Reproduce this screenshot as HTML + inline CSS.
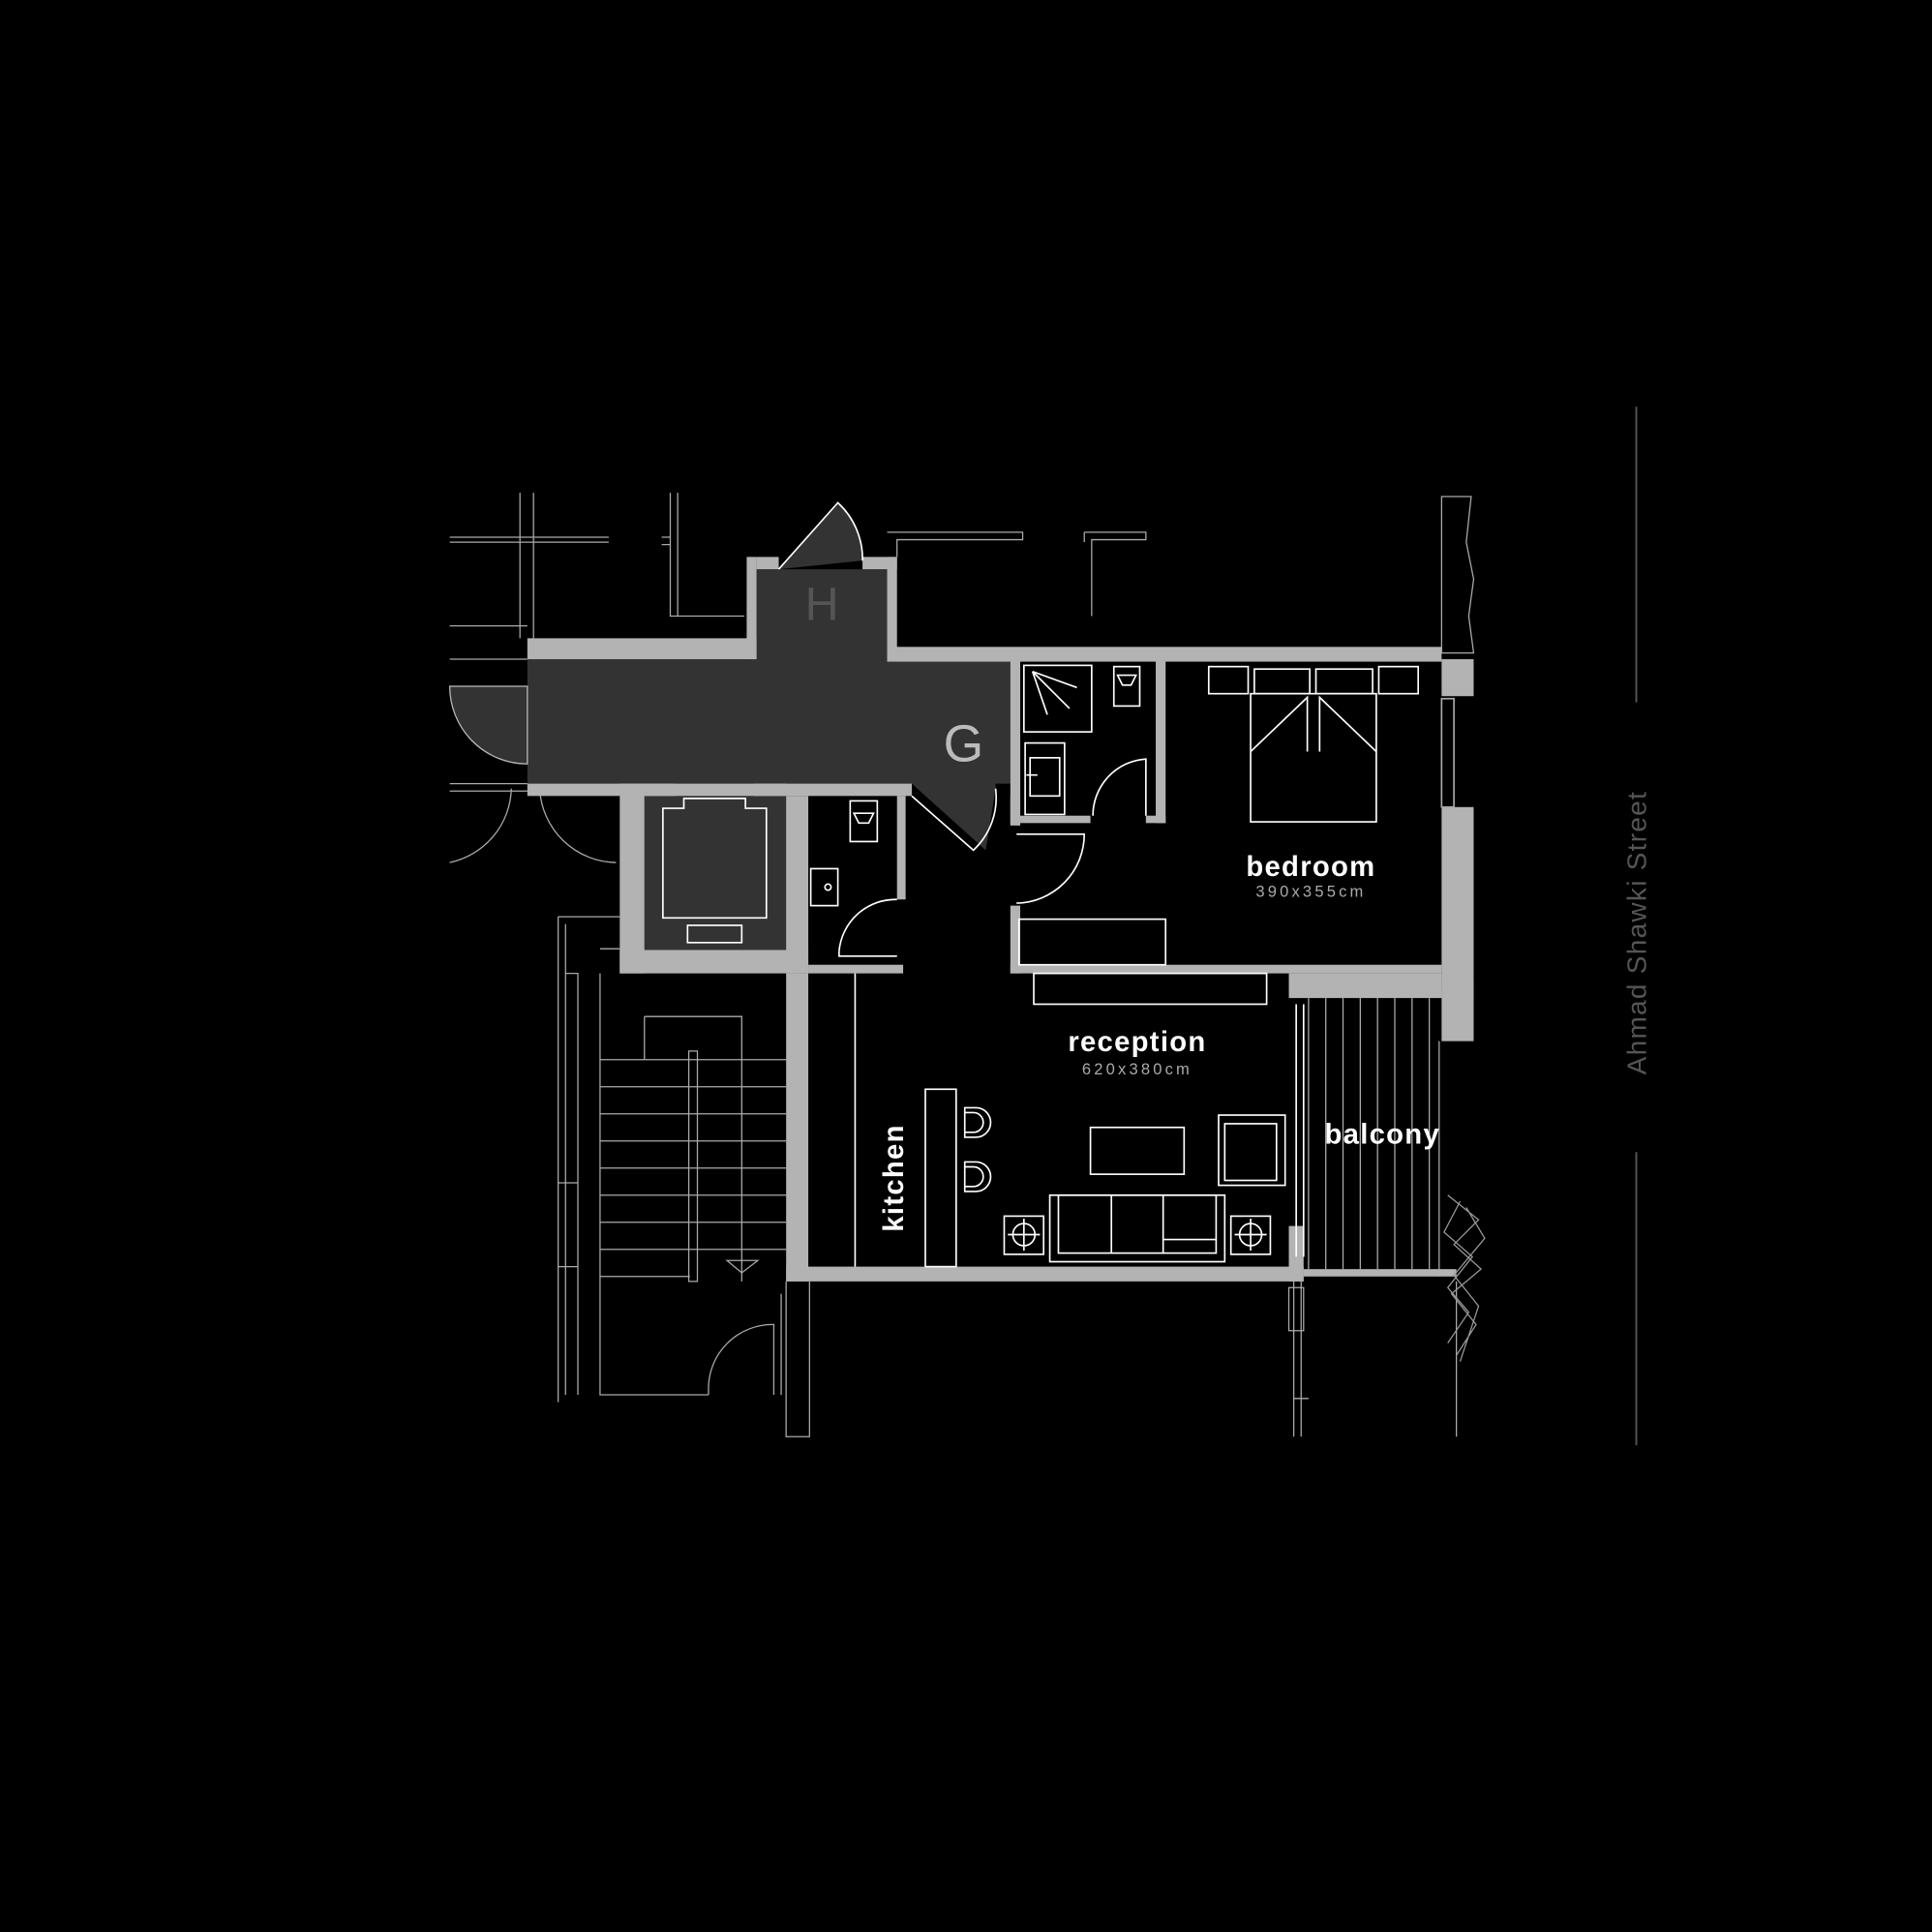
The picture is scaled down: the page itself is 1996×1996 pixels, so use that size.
<!DOCTYPE html>
<html><head><meta charset="utf-8"><style>
html,body{margin:0;padding:0;background:#000;}
svg{display:block;}
text{font-family:"Liberation Sans",sans-serif;}
</style></head><body>
<svg width="1996" height="1996" viewBox="0 0 1568 1568" xmlns="http://www.w3.org/2000/svg">
<rect width="1568" height="1568" fill="#000"/>
<g fill="none" stroke="#aaa" stroke-width="1">
<path d="M365 436H494M365 440H494M422 400V518M433 400V518M365 508H428M365 535H428"/>
<path d="M544 400V500H604M550 400V500M537 436H544V442H537"/>
<path d="M720 432H830V438H728V452M880 432H930V438H886V500M880 432V440"/>
<path d="M1170 403H1194L1190 440L1196 470L1192 500L1196 530H1170Z"/>
<path d="M365 636H428M365 642H500M365 700A63 63 0 0 0 415 640M438 640A63 63 0 0 0 500 700"/>
<path d="M453 744H503M453 744V1138M459 750V1132M459 790H469V1132M453 960H469M453 1028H469M487 790V1132H575M487 770H503"/>
<path d="M523 825H602V1040M523 825V860"/>
<path d="M487 860H638M487 882H638M487 904H638M487 926H638M487 948H638M487 970H638M487 992H638M487 1014H638M487 1036H560"/>
<path d="M559 853H566V1040H559Z"/>
<path d="M590 1023H615L602 1033Z"/>
<path d="M575 1132V1128A52 52 0 0 1 628 1075V1132M634 1050V1132M638 1040V1166H657V1040"/>
<path d="M1050 1040V1166M1056 1040V1166M1046 1045H1058V1080H1046ZM1050 1135H1062M1182 1040V1166"/>
<path d="M1062 810V1030M1076 810V1030M1090 810V1030M1104 810V1030M1118 810V1030M1132 810V1030M1146 810V1030M1160 810V1030"/>
<path d="M1168 845V1036"/>
</g>
<g fill="#333">
<path d="M428 535H614V462H720V535H820V636H740L800 690L808 640V636H428Z"/>
<rect x="523" y="646" width="115" height="125"/>
<path d="M632 462L680 408A60 60 0 0 1 700 455Z"/>
</g>
<path d="M428 557H365A63 63 0 0 0 428 620Z" fill="#333" stroke="#bbb"/>
<g fill="#b3b3b3">
<rect x="428" y="518" width="186" height="17"/>
<rect x="606" y="452" width="8" height="83"/>
<rect x="614" y="452" width="18" height="10"/>
<rect x="700" y="452" width="28" height="10"/>
<rect x="720" y="452" width="8" height="83"/>
<rect x="720" y="525" width="450" height="12"/>
<rect x="1170" y="535" width="26" height="30"/>
<rect x="1170" y="655" width="26" height="155"/>
<rect x="1170" y="795" width="26" height="50"/>
<rect x="820" y="535" width="8" height="135"/>
<rect x="938" y="535" width="8" height="133"/>
<rect x="828" y="662" width="57" height="6"/>
<rect x="930" y="662" width="16" height="6"/>
<rect x="428" y="636" width="120" height="10"/>
<rect x="612" y="636" width="128" height="10"/>
<rect x="503" y="636" width="20" height="154"/>
<rect x="638" y="646" width="18" height="144"/>
<rect x="503" y="771" width="153" height="19"/>
<rect x="523" y="636" width="115" height="10"/>
<rect x="728" y="646" width="7" height="84"/>
<rect x="656" y="783" width="77" height="7"/>
<rect x="820" y="646" width="8" height="22"/>
<rect x="820" y="735" width="8" height="55"/>
<rect x="820" y="783" width="350" height="7"/>
<rect x="1046" y="790" width="124" height="20"/>
<rect x="638" y="790" width="18" height="250"/>
<rect x="638" y="1028" width="420" height="12"/>
<rect x="1046" y="995" width="12" height="45"/>
<rect x="1058" y="1030" width="124" height="6"/>
</g>
<g fill="none" stroke="#fff" stroke-width="1.3">
<path d="M740 646L790 690A58 58 0 0 0 808 640"/>
<path d="M632 462L680 408A62 62 0 0 1 700 455"/>
<path d="M538 656H555V648H605V656H622V745H538Z"/>
<rect x="558" y="751" width="44" height="14"/>
<rect x="690" y="650" width="22" height="33"/><path d="M693 660H709L705 668H697Z"/>
<rect x="658" y="705" width="22" height="30"/><circle cx="672" cy="720" r="2.5"/>
<path d="M681 772A46 46 0 0 1 728 730M681 772V776H728"/>
<rect x="831" y="540" width="55" height="54"/><path d="M838 545L850 580M838 545L874 558M838 545L868 575"/>
<rect x="904" y="541" width="21" height="32"/><path d="M907 548H922L918 556H911Z"/>
<rect x="832" y="603" width="32" height="58"/><rect x="836" y="615" width="24" height="31"/><path d="M833 629H842"/>
<path d="M887 662A46 46 0 0 1 930 616V662"/>
<path d="M825 677H880A56 56 0 0 1 825 733"/>
<rect x="827" y="746" width="119" height="37"/>
<rect x="981" y="541" width="32" height="22"/><rect x="1018" y="543" width="45" height="20"/><rect x="1068" y="543" width="46" height="20"/><rect x="1119" y="541" width="32" height="22"/>
<rect x="1015" y="563" width="102" height="104"/>
<path d="M1015 610L1061 566V610M1117 610L1071 566V610"/>
<rect x="1170" y="567" width="10" height="88" stroke="#aaa"/>
<rect x="839" y="790" width="189" height="25"/>
<path d="M694 790V1028"/>
<rect x="751" y="884" width="25" height="144"/>
<path d="M783 899H792A12 12 0 0 1 792 923H783ZM783 943H792A12 12 0 0 1 792 967H783Z"/>
<path d="M783 903H790A8 8 0 0 1 790 919H783M783 947H790A8 8 0 0 1 790 963H783"/>
<rect x="885" y="915" width="76" height="38"/>
<rect x="989" y="905" width="54" height="57"/><rect x="994" y="912" width="42" height="46"/>
<rect x="852" y="970" width="142" height="54"/><rect x="859" y="970" width="128" height="47"/>
<path d="M902 970V1017M944 970V1017M944 1006H987"/>
<rect x="815" y="987" width="32" height="31"/><circle cx="831" cy="1002" r="9"/><path d="M831 989V1015M818 1002H844"/>
<rect x="999" y="987" width="32" height="31"/><circle cx="1015" cy="1002" r="9"/><path d="M1015 989V1015M1002 1002H1028"/>
<path d="M1052 815V1020M1058 815V1020"/>
</g>
<path d="M1175 970L1200 990L1180 1010L1202 1030L1178 1050L1198 1075L1182 1100M1185 975L1172 1000L1195 1020L1175 1045L1192 1065L1175 1090M1190 980L1205 1005L1180 1035L1200 1060L1185 1105" fill="none" stroke="#999" stroke-width="1"/>
<text x="667" y="503" font-size="38" fill="#555" text-anchor="middle">H</text>
<text x="782" y="618" font-size="42" fill="#bbb" text-anchor="middle">G</text>
<text x="1064" y="711" font-size="23" fill="#fff" text-anchor="middle" font-weight="bold" letter-spacing="1">bedroom</text>
<text x="1064" y="728" font-size="13" fill="#aaa" text-anchor="middle" letter-spacing="2.5">390x355cm</text>
<text x="923" y="853" font-size="23" fill="#fff" text-anchor="middle" font-weight="bold" letter-spacing="1">reception</text>
<text x="923" y="872" font-size="13" fill="#aaa" text-anchor="middle" letter-spacing="2.5">620x380cm</text>
<text x="1122" y="928" font-size="23" fill="#fff" text-anchor="middle" font-weight="bold" letter-spacing="1">balcony</text>
<text transform="translate(733,956) rotate(-90)" font-size="23" fill="#fff" text-anchor="middle" font-weight="bold" letter-spacing="1">kitchen</text>
<text transform="translate(1336,757) rotate(-90)" font-size="22" fill="#555" text-anchor="middle" letter-spacing="1">Ahmad Shawki Street</text>
<path d="M1328 330V570M1328 935V1173" stroke="#555" stroke-width="1.5"/>
</svg>
</body></html>
